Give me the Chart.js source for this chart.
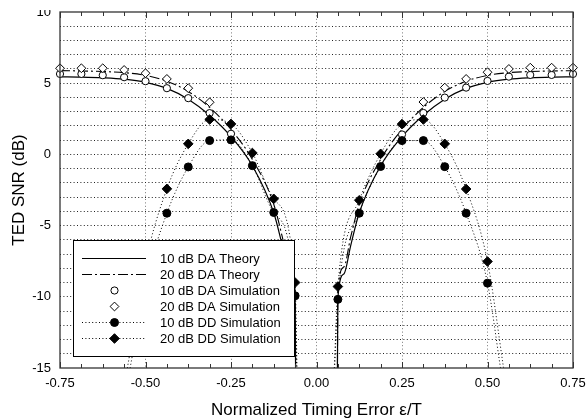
<!DOCTYPE html>
<html>
<head>
<meta charset="utf-8">
<script src="https://cdn.jsdelivr.net/npm/chart.js@4/dist/chart.umd.min.js"></script>
<style>
  html, body { margin: 0; padding: 0; background: #fff; }
  #wrap { position: relative; width: 587px; height: 418px; }
</style>
</head>
<body>
<div id="wrap"><canvas id="chart" width="587" height="418"></canvas></div>
<script>
const FONT = '"Liberation Sans", Arial, sans-serif'

// simulation points (timing error eps/T, SNR dB)
const da10X = [-0.75, -0.6875, -0.625, -0.5625, -0.5, -0.4375, -0.375, -0.3125, -0.25, 0.25, 0.3125, 0.375, 0.4375, 0.5, 0.5625, 0.625, 0.6875, 0.75]
const da10Y = [5.65, 5.65, 5.56, 5.42, 5.14, 4.65, 3.95, 2.9, 1.45, 1.4, 2.91, 3.99, 4.69, 5.16, 5.46, 5.58, 5.58, 5.65]
const da20X = [-0.75, -0.6875, -0.625, -0.5625, -0.5, -0.4375, -0.375, -0.3125, 0.3125, 0.375, 0.4375, 0.5, 0.5625, 0.625, 0.6875, 0.75]
const da20Y = [6.05, 6.05, 6.05, 5.93, 5.7, 5.3, 4.65, 3.66, 3.68, 4.69, 5.3, 5.77, 6.0, 6.09, 6.09, 6.09]
const ddX = [-0.4375, -0.375, -0.3125, -0.25, -0.1875, -0.125, -0.0625, 0.0625, 0.125, 0.1875, 0.25, 0.3125, 0.375, 0.4375, 0.5]
const dd10Y = [-4.13, -0.88, 0.97, 1.02, -0.79, -4.08, -9.93, -10.18, -4.13, -0.85, 0.97, 0.97, -0.86, -4.13, -9.04]
const dd20Y = [-2.42, 0.74, 2.45, 2.14, 0.1, -3.12, -9.0, -9.28, -3.22, 0.04, 2.13, 2.45, 0.74, -2.43, -7.52]

// theory curves (null = break at the centre)
const thX = [-0.75, -0.6875, -0.625, -0.5625, -0.5, -0.4375, -0.375, -0.3125, -0.25, -0.1875, -0.125, -0.1, -0.08, -0.0625, -0.061, 0,
  0.061, 0.0625, 0.08, 0.1, 0.125, 0.1875, 0.25, 0.3125, 0.375, 0.4375, 0.5, 0.5625, 0.625, 0.6875, 0.75]
const th10Y = [5.45, 5.43, 5.38, 5.28, 5.06, 4.64, 3.88, 2.75, 1.25, -0.8, -4.1, -6.4, -8.4, -10.1, -16, null,
  -16, -10.1, -8.4, -6.4, -4.1, -0.8, 1.25, 2.75, 3.88, 4.64, 5.06, 5.28, 5.38, 5.43, 5.45]
const th20Y = [5.88, 5.86, 5.82, 5.74, 5.55, 5.14, 4.42, 3.3, 1.75, -0.35, -3.5, -5.8, -7.9, -9.6, -16, null,
  -16, -9.6, -7.9, -5.8, -3.5, -0.35, 1.75, 3.3, 4.42, 5.14, 5.55, 5.74, 5.82, 5.86, 5.88]

// dotted DD fit curves
const dd10CurveX = [-0.545, -0.5, -0.4375, -0.375, -0.3125, -0.25, -0.1875, -0.125, -0.0625, -0.058, 0,
  0.053, 0.0625, 0.125, 0.1875, 0.25, 0.3125, 0.375, 0.4375, 0.5, 0.538]
const dd10CurveY = [-15, -9.1, -4.13, -0.88, 0.97, 1.02, -0.79, -4.08, -9.93, -15, null,
  -15, -10.18, -4.13, -0.85, 0.97, 0.97, -0.86, -4.13, -9.04, -15]
const dd20CurveX = [-0.553, -0.5, -0.4375, -0.375, -0.3125, -0.25, -0.1875, -0.125, -0.0625, -0.057, 0,
  0.052, 0.0625, 0.125, 0.1875, 0.25, 0.3125, 0.375, 0.4375, 0.5, 0.547]
const dd20CurveY = [-15, -7.6, -2.42, 0.74, 2.45, 2.14, 0.1, -3.12, -9.0, -15, null,
  -15, -9.28, -3.22, 0.04, 2.13, 2.45, 0.74, -2.43, -7.52, -15]

const xTicks = [-0.75, -0.5, -0.25, 0, 0.25, 0.5, 0.75]
const minorStep = 0.0625
const legendLabels = ['10 dB DA Theory', '20 dB DA Theory', '10 dB DA Simulation', '20 dB DA Simulation', '10 dB DD Simulation', '20 dB DD Simulation']

const DOT = [1, 2.4]
const DASHDOT = [10, 3, 2, 3]

function pts(xs, ys) {
  return xs.map((x, i) => ({ x: x, y: ys[i] }))
}

function markers(xs, ys, style, radius, fill) {
  return {
    data: pts(xs, ys), showLine: false, clip: false,
    pointStyle: style, pointRadius: radius, pointHoverRadius: radius,
    pointBackgroundColor: fill, pointBorderColor: '#000', pointBorderWidth: 1
  }
}

function curve(xs, ys, dash, width) {
  return {
    data: pts(xs, ys), showLine: true, pointRadius: 0, spanGaps: false,
    borderColor: '#000', borderWidth: width, borderDash: dash,
    cubicInterpolationMode: 'monotone'
  }
}

// no automatic label padding, the layout is fixed
function noPad(s) {
  s.paddingTop = 0; s.paddingBottom = 0; s.paddingLeft = 0; s.paddingRight = 0
}

// legend rows: line dash, marker
const legendRows = [
  { dash: [], marker: null },
  { dash: DASHDOT, marker: null },
  { dash: null, marker: { pointStyle: 'circle', radius: 3.6, fill: '#fff' } },
  { dash: null, marker: { pointStyle: 'rectRot', radius: 4.4, fill: '#fff' } },
  { dash: DOT, marker: { pointStyle: 'circle', radius: 4, fill: '#000' } },
  { dash: DOT, marker: { pointStyle: 'rectRot', radius: 4.8, fill: '#000' } }
]

const decor = {
  id: 'decor',
  afterDraw(chart) {
    const ctx = chart.ctx
    const ca = chart.chartArea
    const xs = chart.scales.x
    ctx.save()

    // crop the top like the scanned original
    ctx.fillStyle = '#fff'
    ctx.fillRect(0, 0, chart.width, 10)

    // frame
    ctx.strokeStyle = '#333'
    ctx.lineWidth = 1.3
    ctx.setLineDash([])
    ctx.strokeRect(ca.left, ca.top, ca.right - ca.left, ca.bottom - ca.top)

    // inward ticks top and bottom
    ctx.lineWidth = 1
    for (let v = xTicks[0]; v <= xTicks[xTicks.length - 1] + 1e-9; v += minorStep) {
      const px = Math.round(xs.getPixelForValue(v)) + 0.5
      const major = xTicks.some(t => Math.abs(t - v) < 1e-9)
      const len = major ? 6 : 4
      ctx.beginPath()
      ctx.moveTo(px, ca.top); ctx.lineTo(px, ca.top + len)
      ctx.moveTo(px, ca.bottom); ctx.lineTo(px, ca.bottom - len)
      ctx.stroke()
    }

    // legend box
    const bx = ca.left + 13, by = ca.top + 228, bw = 221, bh = 116
    ctx.fillStyle = '#fff'
    ctx.fillRect(bx, by, bw, bh)
    ctx.strokeStyle = '#000'
    ctx.lineWidth = 1
    ctx.strokeRect(bx + 0.5, by + 0.5, bw, bh)
    ctx.font = '13px ' + FONT
    ctx.textBaseline = 'middle'
    ctx.textAlign = 'left'
    legendRows.forEach((row, i) => {
      const y = by + 18.5 + i * 16
      if (row.dash) {
        ctx.setLineDash(row.dash)
        ctx.lineWidth = 1.2
        ctx.beginPath()
        ctx.moveTo(bx + 9, y); ctx.lineTo(bx + 73, y)
        ctx.stroke()
        ctx.setLineDash([])
      }
      if (row.marker) {
        ctx.fillStyle = row.marker.fill
        ctx.strokeStyle = '#000'
        ctx.lineWidth = 1
        Chart.helpers.drawPoint(ctx, { pointStyle: row.marker.pointStyle, radius: row.marker.radius, borderWidth: 1, rotation: 0 }, bx + 41.5, y)
      }
      ctx.fillStyle = '#000'
      ctx.fillText(legendLabels[i], bx + 87, y + 0.5)
    })

    // axis titles
    ctx.fillStyle = '#000'
    ctx.font = '17px ' + FONT
    ctx.textAlign = 'center'
    ctx.textBaseline = 'alphabetic'
    ctx.fillText('Normalized Timing Error \u03b5/T', (ca.left + ca.right) / 2, 415)
    ctx.translate(24, (ca.top + ca.bottom) / 2)
    ctx.rotate(-Math.PI / 2)
    ctx.fillText('TED SNR (dB)', 0, 0)
    ctx.restore()
  }
}

const chart = new Chart(document.getElementById('chart'), {
  type: 'scatter',
  data: {
    datasets: [
      markers(ddX, dd20Y, 'rectRot', 4.8, '#000'),
      markers(ddX, dd10Y, 'circle', 4, '#000'),
      markers(da20X, da20Y, 'rectRot', 4.4, '#fff'),
      markers(da10X, da10Y, 'circle', 3.6, '#fff'),
      curve(dd20CurveX, dd20CurveY, DOT, 1),
      curve(dd10CurveX, dd10CurveY, DOT, 1),
      curve(thX, th20Y, DASHDOT, 1.1),
      curve(thX, th10Y, [], 1.2)
    ]
  },
  options: {
    responsive: false,
    animation: false,
    events: [],
    layout: { padding: { top: 12, right: 14, left: 0, bottom: 0 } },
    plugins: { legend: { display: false }, tooltip: { enabled: false } },
    scales: {
      x: {
        type: 'linear', min: -0.75, max: 0.75,
        afterFit: s => { s.height = 50; noPad(s) },
        afterBuildTicks: s => { s.ticks = xTicks.map(v => ({ value: v })) },
        ticks: {
          callback: v => v.toFixed(2), color: '#000', padding: 8,
          maxRotation: 0, autoSkip: false, font: { family: FONT, size: 13 }
        },
        grid: {
          drawTicks: false, lineWidth: 1,
          color: c => (c.tick && Math.abs(c.tick.value) < 0.7) ? '#777' : 'rgba(0,0,0,0)'
        },
        border: { display: false, dash: DOT }
      },
      y: {
        min: -15, max: 10,
        afterFit: s => { s.width = 60; noPad(s) },
        ticks: {
          stepSize: 1, autoSkip: false, color: '#000', padding: 9,
          callback: v => (v % 5 === 0 ? String(v) : ''),
          font: { family: FONT, size: 13 }
        },
        grid: {
          drawTicks: false, lineWidth: 1,
          color: c => (c.tick && c.tick.value > -15 && c.tick.value < 10) ? '#222' : 'rgba(0,0,0,0)'
        },
        border: { display: false, dash: DOT }
      }
    }
  },
  plugins: [decor]
})
</script>
</body>
</html>
